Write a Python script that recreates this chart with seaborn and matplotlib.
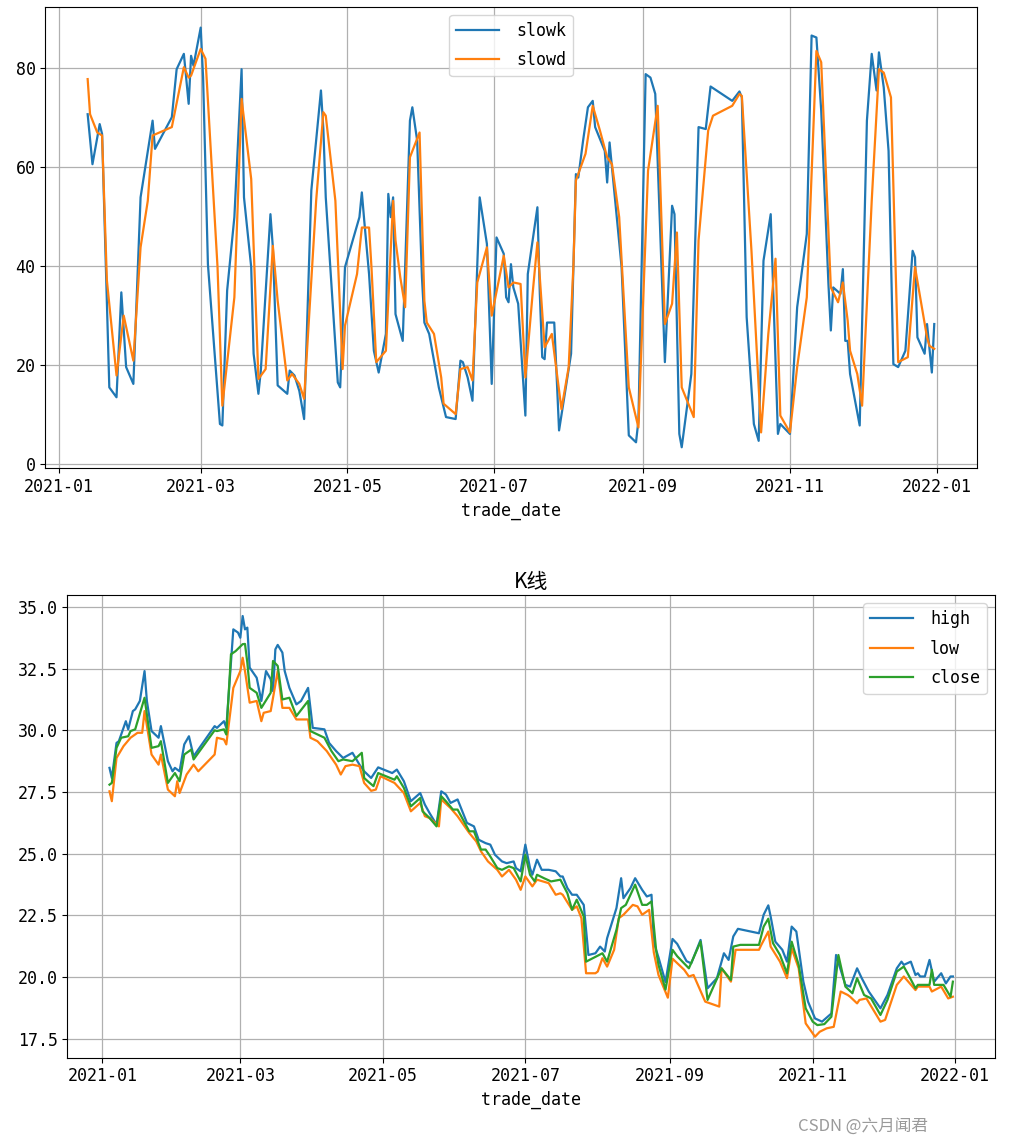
import numpy as np
import pandas as pd
import seaborn as sns
import matplotlib.pyplot as plt
import matplotlib.dates as mdates

# days counted from 2021-01-01
k_days = [12, 14, 17, 18, 21, 24, 26, 28, 31, 34, 39, 40, 47, 49, 52, 54, 55, 56, 59, 60,
          62, 67, 68, 70, 73, 76, 77, 80, 81, 83, 84, 88, 89, 91, 95, 96, 98, 100, 102, 105,
          109, 110, 111, 116, 117, 119, 125, 126, 127, 129, 131, 133, 136, 137, 138, 139, 140, 143, 146, 147,
          149, 151, 152, 154, 158, 161, 165, 167, 168, 170, 172, 175, 178, 180, 182, 185, 186, 187, 188, 189,
          191, 194, 195, 199, 200, 201, 202, 203, 206, 208, 213, 215, 216, 218, 220, 222, 223, 227, 228, 229,
          230, 234, 237, 240, 241, 244, 246, 248, 252, 255, 256, 258, 259, 263, 266, 269, 271, 280, 283, 284,
          286, 289, 291, 293, 296, 299, 300, 304, 307, 311, 313, 315, 317, 320, 321, 322, 325, 326, 327, 328,
          329, 333, 336, 338, 340, 341, 343, 345, 347, 349, 352, 355, 356, 357, 360, 361, 363, 364]
slowk = [70.6, 60.5, 68.6, 66.6, 15.4, 13.4, 34.6, 19.5, 16.1, 53.8, 69.3, 63.6, 70.0, 79.7, 82.8, 72.7, 82.4, 80.4, 88.1, 78.0,
         40.3, 8.0, 7.7, 35.0, 49.8, 79.7, 53.8, 39.7, 22.2, 14.1, 18.8, 50.4, 43.7, 15.8, 14.1, 18.8, 17.8, 14.7, 9.0, 55.2,
         75.4, 67.6, 53.8, 16.4, 15.4, 39.7, 49.8, 54.8, 49.1, 38.3, 22.8, 18.4, 26.2, 54.5, 49.8, 53.8, 30.2, 24.8, 69.3, 72.0,
         65.3, 37.6, 28.5, 26.2, 15.4, 9.4, 9.0, 20.8, 20.5, 17.4, 12.7, 53.8, 44.4, 16.1, 45.7, 42.4, 33.6, 32.6, 40.3, 35.6,
         32.3, 9.7, 38.3, 51.8, 34.3, 21.5, 21.1, 28.5, 28.5, 6.7, 22.2, 58.5, 57.8, 65.3, 72.0, 73.3, 68.0, 63.2, 56.8, 64.9,
         59.9, 39.7, 5.7, 4.3, 8.7, 78.7, 78.0, 74.7, 20.5, 52.1, 50.4, 6.0, 3.3, 18.1, 68.0, 67.6, 76.2, 73.3, 75.2, 74.0,
         29.6, 8.0, 4.6, 41.0, 50.4, 6.0, 8.0, 6.0, 31.6, 46.4, 86.5, 86.1, 71.3, 36.3, 26.9, 35.6, 34.3, 39.3, 24.8, 24.8,
         18.1, 7.7, 69.3, 82.8, 75.4, 83.1, 76.0, 63.2, 20.1, 19.5, 22.8, 43.0, 41.7, 25.5, 22.2, 28.2, 18.4, 28.2]

d_days = [12, 13, 16, 18, 20, 24, 27, 31, 34, 37, 39, 47, 52, 54, 55, 59, 61, 66, 68, 73,
          76, 80, 83, 86, 89, 91, 95, 97, 100, 102, 107, 110, 111, 115, 118, 119, 124, 126, 129, 130,
          132, 136, 139, 140, 142, 144, 146, 150, 152, 153, 156, 159, 160, 165, 167, 170, 172, 174, 178, 180,
          185, 187, 189, 192, 194, 197, 199, 202, 205, 209, 212, 214, 215, 219, 222, 225, 228, 230, 233, 237,
          241, 245, 249, 252, 255, 257, 259, 264, 266, 270, 272, 280, 283, 284, 288, 292, 295, 298, 300, 304,
          307, 311, 315, 317, 321, 324, 326, 328, 329, 332, 334, 338, 341, 343, 346, 349, 353, 356, 361, 362, 364]
slowd = [77.7, 70.6, 66.9, 66.3, 37.0, 17.8, 29.9, 20.8, 43.7, 53.1, 66.3, 68.0, 80.1, 78.0, 78.4, 83.8, 81.8, 39.7, 11.7, 33.6,
         73.7, 57.5, 17.1, 19.1, 44.0, 32.9, 16.8, 18.1, 16.1, 13.1, 53.1, 71.0, 70.3, 53.1, 19.1, 27.9, 38.3, 47.7, 47.7, 39.7,
         20.5, 22.8, 53.1, 45.1, 37.6, 31.6, 61.9, 66.9, 32.9, 28.5, 26.2, 17.4, 12.1, 10.0, 19.1, 19.5, 16.8, 36.6, 43.7, 29.9,
         42.0, 35.6, 36.6, 36.3, 17.4, 34.3, 44.7, 23.5, 26.2, 11.0, 19.5, 40.3, 57.2, 62.6, 72.3, 67.3, 61.9, 60.5, 49.8, 15.4,
         7.3, 59.2, 72.3, 28.2, 32.3, 46.7, 15.4, 9.4, 45.1, 67.3, 70.3, 72.3, 74.7, 74.3, 43.0, 6.3, 26.2, 41.4, 9.7, 6.3,
         19.5, 33.6, 83.4, 81.1, 35.6, 32.6, 36.6, 28.9, 22.8, 18.1, 11.7, 53.1, 79.7, 79.0, 74.0, 20.5, 21.5, 39.7, 25.5, 23.8, 23.2]

high_days = [3, 4, 6, 7, 10, 11, 13, 14, 16, 18, 19, 21, 24, 25, 26, 28, 30, 31, 33, 35,
             37, 39, 48, 49, 52, 53, 56, 58, 59, 60, 61, 62, 63, 66, 68, 70, 72, 73, 74, 75,
             77, 78, 80, 83, 85, 88, 90, 95, 97, 100, 103, 107, 110, 112, 115, 118, 124, 126, 129, 132,
             136, 138, 140, 143, 145, 147, 149, 152, 156, 159, 161, 164, 166, 168, 171, 173, 176, 177, 179, 181,
             183, 184, 186, 188, 191, 194, 196, 197, 199, 201, 203, 206, 208, 211, 213, 215, 216, 220, 222, 223,
             226, 228, 231, 233, 235, 236, 238, 241, 244, 246, 250, 252, 256, 259, 263, 266, 268, 270, 272, 281,
             283, 285, 286, 288, 291, 293, 295, 297, 300, 302, 305, 308, 312, 314, 318, 320, 323, 325, 328, 333,
             336, 340, 342, 343, 346, 348, 349, 350, 352, 354, 356, 359, 361, 363, 364]
high = [28.48, 28.07, 29.49, 29.56, 30.37, 30.04, 30.78, 30.85, 31.19, 32.40, 31.19, 29.97, 29.70, 30.17, 29.70, 28.75, 28.34, 28.48, 28.34, 29.43,
        29.76, 28.95, 30.17, 30.10, 30.37, 30.10, 34.09, 33.96, 33.75, 34.63, 34.09, 34.16, 32.54, 32.13, 31.19, 32.40, 32.07, 31.59, 33.28, 33.46,
        33.15, 32.40, 31.72, 31.05, 31.19, 31.72, 30.10, 30.04, 29.49, 29.16, 28.88, 29.09, 28.61, 28.34, 28.07, 28.50, 28.27, 28.41, 27.94, 27.13,
        27.46, 26.99, 26.65, 26.18, 27.53, 27.40, 27.06, 27.20, 26.25, 26.11, 25.57, 25.43, 25.37, 24.96, 24.69, 24.62, 24.69, 24.42, 24.29, 25.37,
        24.42, 24.15, 24.76, 24.35, 24.35, 24.29, 24.08, 24.08, 23.61, 23.34, 23.34, 22.93, 20.90, 20.97, 21.24, 21.04, 21.58, 22.80, 24.01, 23.20,
        23.61, 24.01, 23.54, 23.27, 23.34, 21.40, 20.80, 19.80, 21.55, 21.35, 20.65, 20.56, 21.51, 19.55, 19.96, 20.97, 20.70, 21.65, 21.96, 21.78,
        22.53, 22.91, 22.46, 21.44, 21.11, 20.63, 22.05, 21.85, 19.82, 19.01, 18.33, 18.20, 18.53, 20.90, 19.69, 19.62, 20.36, 19.96, 19.42, 18.74,
        19.28, 20.36, 20.63, 20.50, 20.63, 20.09, 20.16, 20.03, 20.03, 20.70, 19.82, 20.16, 19.75, 20.03, 20.03]

low_days = [3, 4, 6, 9, 12, 15, 17, 18, 21, 24, 25, 28, 31, 32, 33, 36, 39, 41, 48, 49,
            52, 53, 56, 59, 60, 61, 63, 66, 68, 69, 72, 75, 77, 80, 83, 88, 89, 92, 96, 100,
            102, 104, 107, 110, 112, 115, 117, 119, 125, 129, 132, 136, 138, 140, 144, 145, 149, 152, 157, 160,
            162, 165, 169, 171, 174, 177, 179, 181, 184, 186, 191, 194, 196, 197, 201, 203, 205, 207, 211, 212,
            214, 216, 219, 221, 223, 227, 229, 231, 234, 236, 238, 242, 244, 249, 251, 253, 258, 264, 265, 269,
            271, 281, 282, 285, 286, 290, 293, 295, 298, 301, 305, 307, 310, 313, 316, 319, 320, 323, 324, 327,
            333, 335, 340, 343, 348, 349, 354, 355, 359, 362, 364]
low = [27.53, 27.13, 28.88, 29.36, 29.70, 29.90, 29.90, 30.78, 29.02, 28.61, 29.02, 27.60, 27.33, 27.94, 27.46, 28.21, 28.61, 28.34, 29.02, 29.70,
       29.63, 29.43, 31.72, 32.40, 32.94, 32.40, 31.12, 31.19, 30.37, 30.71, 30.78, 32.40, 30.91, 30.91, 30.44, 30.44, 29.70, 29.56, 29.16, 28.61,
       28.21, 28.55, 28.61, 28.55, 27.87, 27.55, 27.60, 28.14, 27.87, 27.46, 26.72, 27.06, 26.52, 26.45, 26.11, 27.20, 26.85, 26.52, 25.84, 25.50,
       25.10, 24.69, 24.35, 24.08, 24.35, 23.95, 23.54, 24.08, 23.68, 23.95, 23.81, 23.34, 23.40, 23.34, 22.73, 22.87, 22.39, 20.16, 20.16, 20.23,
       20.77, 20.43, 21.11, 22.39, 22.53, 22.93, 22.87, 22.53, 22.73, 21.00, 20.09, 19.17, 20.75, 20.30, 20.03, 20.09, 19.01, 18.81, 20.36, 19.82,
       21.11, 21.11, 21.31, 21.85, 21.24, 20.63, 19.96, 21.17, 20.36, 18.13, 17.59, 17.79, 17.93, 17.99, 19.42, 19.28, 19.21, 18.94, 19.08, 19.14,
       18.20, 18.27, 19.69, 20.03, 19.48, 19.62, 19.62, 19.42, 19.62, 19.14, 19.21]

close_days = [3, 4, 6, 8, 11, 12, 14, 18, 21, 24, 25, 28, 31, 33, 35, 38, 39, 48, 49, 52,
              53, 55, 57, 60, 61, 62, 63, 66, 68, 72, 73, 75, 77, 80, 83, 88, 89, 95, 98, 101,
              103, 107, 111, 112, 114, 116, 118, 125, 126, 129, 132, 136, 137, 140, 143, 145, 147, 150, 152, 157,
              159, 162, 164, 166, 169, 171, 174, 176, 179, 181, 183, 185, 186, 189, 192, 196, 199, 201, 203, 206,
              207, 214, 216, 220, 222, 224, 228, 231, 233, 235, 237, 238, 241, 244, 246, 251, 256, 259, 265, 269,
              270, 273, 281, 283, 285, 287, 290, 293, 295, 298, 301, 304, 306, 309, 312, 315, 318, 321, 323, 326,
              329, 333, 336, 340, 343, 345, 348, 349, 354, 355, 356, 360, 363, 364]
close = [27.80, 27.87, 29.29, 29.70, 29.76, 29.97, 30.04, 31.32, 29.29, 29.36, 29.56, 27.87, 28.27, 27.94, 29.02, 29.22, 28.82, 30.00, 29.97, 30.04,
         29.83, 33.08, 33.21, 33.49, 33.50, 32.74, 31.72, 31.52, 30.91, 31.52, 32.81, 32.61, 31.25, 31.32, 30.58, 31.19, 29.97, 29.70, 29.16, 28.75,
         28.82, 28.75, 29.09, 28.07, 27.90, 27.74, 28.27, 28.00, 28.14, 27.67, 26.92, 27.26, 26.72, 26.45, 26.11, 27.33, 27.13, 26.79, 26.79, 25.91,
         25.91, 25.17, 25.17, 24.89, 24.42, 24.35, 24.49, 24.42, 23.88, 24.96, 24.15, 23.88, 24.15, 24.01, 23.88, 23.95, 23.40, 22.73, 23.14, 22.46,
         20.63, 20.97, 20.63, 21.92, 22.80, 22.93, 23.75, 22.93, 22.93, 23.07, 21.08, 20.50, 19.50, 21.11, 20.85, 20.36, 21.44, 19.08, 20.36, 19.89,
         21.24, 21.31, 21.31, 22.05, 22.37, 21.38, 20.90, 20.16, 21.44, 20.50, 18.74, 18.20, 18.06, 18.10, 18.40, 20.90, 19.62, 19.35, 19.96, 19.28,
         19.14, 18.47, 19.08, 20.23, 20.43, 20.09, 19.55, 19.69, 19.69, 20.30, 19.69, 19.69, 19.21, 19.82]


def to_dates(days):
    return pd.Timestamp("2021-01-01") + pd.to_timedelta(days, unit="D")


plt.rcParams['font.family'] = ['DejaVu Sans Mono', 'Noto Sans CJK SC']
plt.rcParams['font.size'] = 12
plt.rcParams['axes.unicode_minus'] = False

fig = plt.figure(figsize=(10.14, 11.44), dpi=100)
ax1 = fig.add_axes([0.0447, 0.5907, 0.9184, 0.4035])
ax2 = fig.add_axes([0.0664, 0.0754, 0.9149, 0.4045])

sns.lineplot(x=to_dates(k_days), y=slowk, ax=ax1, label="slowk", color="#1f77b4", lw=1.6)
sns.lineplot(x=to_dates(d_days), y=slowd, ax=ax1, label="slowd", color="#ff7f0e", lw=1.6)

sns.lineplot(x=to_dates(high_days), y=high, ax=ax2, label="high", color="#1f77b4", lw=1.6)
sns.lineplot(x=to_dates(low_days), y=low, ax=ax2, label="low", color="#ff7f0e", lw=1.6)
sns.lineplot(x=to_dates(close_days), y=close, ax=ax2, label="close", color="#2ca02c", lw=1.6)

for ax in (ax1, ax2):
    ax.grid(True, color="#b0b0b0", lw=0.9)
    ax.set_axisbelow(True)
    ax.xaxis.set_major_locator(mdates.MonthLocator(bymonth=[1, 3, 5, 7, 9, 11]))
    ax.xaxis.set_major_formatter(mdates.DateFormatter("%Y-%m"))
    ax.set_xlabel("trade_date")
    ax.set_ylabel("")

ax1.legend(loc="upper center", handlelength=2.6, handletextpad=1.0, labelspacing=0.7)
ax2.legend(loc="upper right", handlelength=2.6, handletextpad=1.0, labelspacing=0.7)
ax2.set_yticks([17.5, 20.0, 22.5, 25.0, 27.5, 30.0, 32.5, 35.0])
ax2.yaxis.set_major_formatter(plt.FormatStrFormatter("%.1f"))
ax2.set_title("K线", family=['Noto Sans CJK SC', 'DejaVu Sans'], fontsize=15, pad=5)

fig.text(0.915, 0.0155, "CSDN @六月闻君", ha="right", va="center", color="#9a9a9a",
         family=['Noto Sans CJK SC', 'DejaVu Sans'], fontsize=12)

fig.savefig("out.png", dpi=100)
